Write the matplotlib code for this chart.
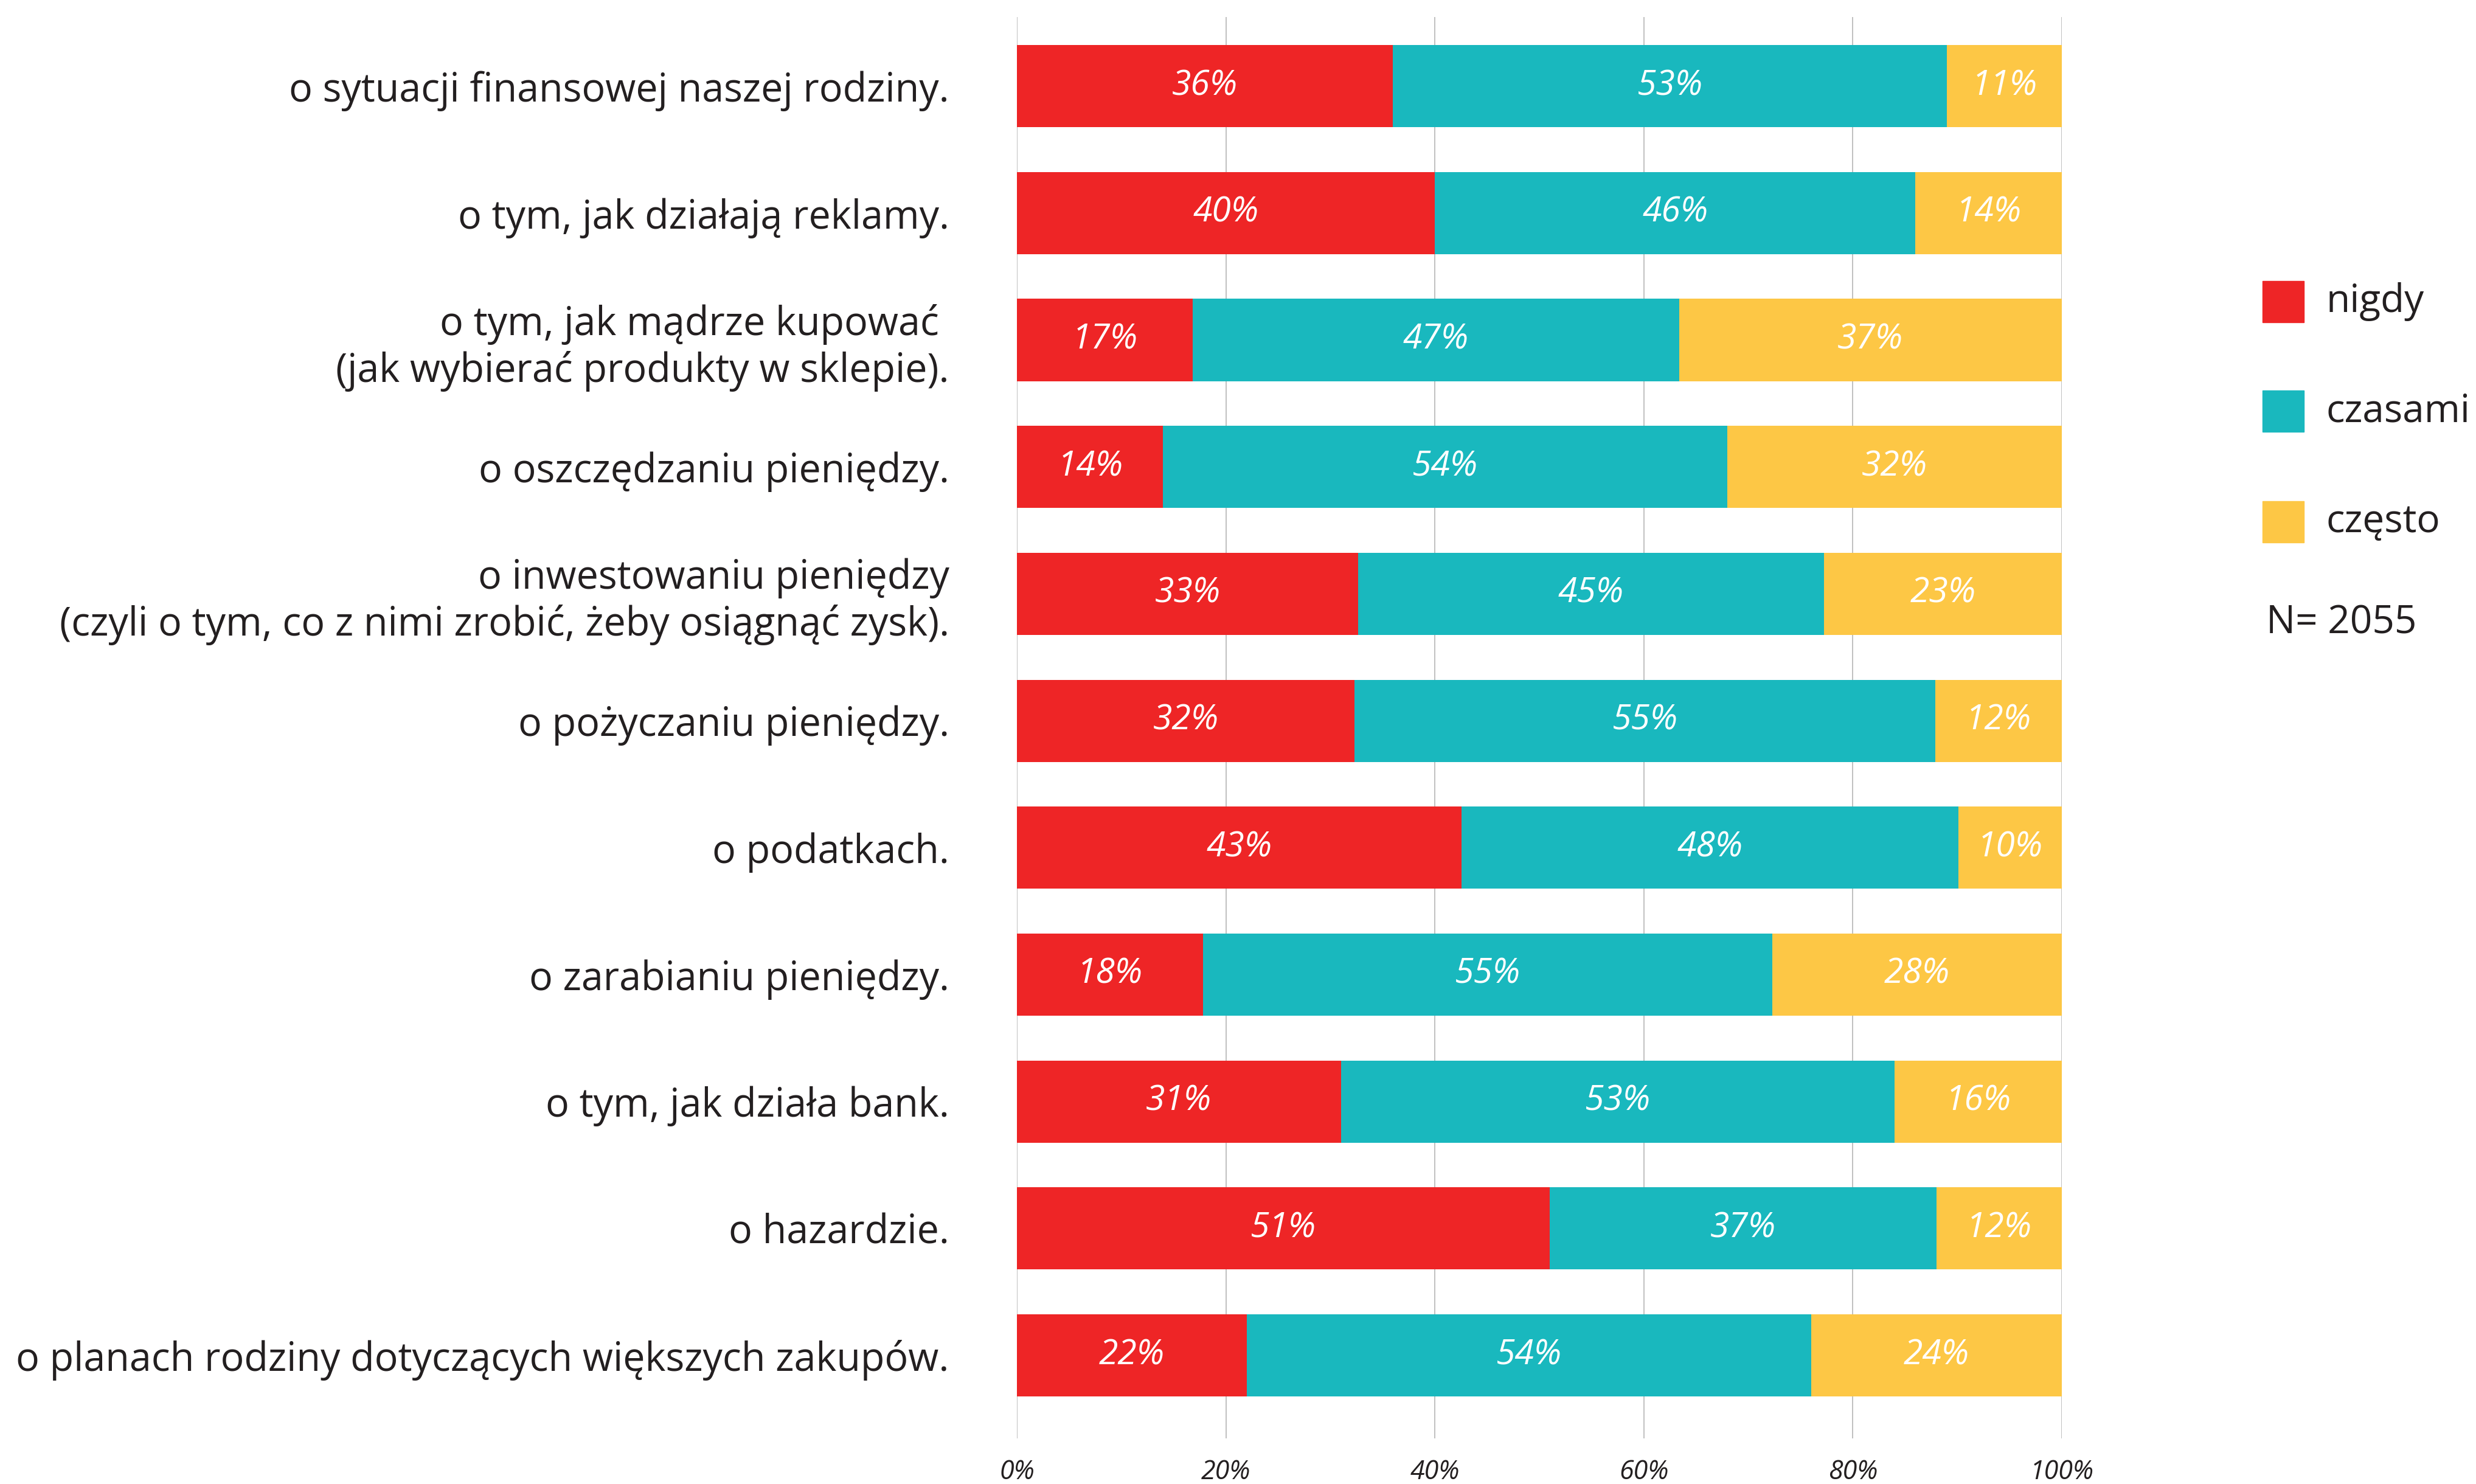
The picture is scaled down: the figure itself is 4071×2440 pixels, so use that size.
import numpy as np
import matplotlib
matplotlib.use("Agg")
import matplotlib.pyplot as plt
from matplotlib.patches import Rectangle

# odpowiedzi na pytanie: jak często rodzice rozmawiają z dzieckiem ...
categories = [
    "o sytuacji finansowej naszej rodziny.",
    "o tym, jak działają reklamy.",
    "o tym, jak mądrze kupować \n(jak wybierać produkty w sklepie).",
    "o oszczędzaniu pieniędzy.",
    "o inwestowaniu pieniędzy\n(czyli o tym, co z nimi zrobić, żeby osiągnąć zysk).",
    "o pożyczaniu pieniędzy.",
    "o podatkach.",
    "o zarabianiu pieniędzy.",
    "o tym, jak działa bank.",
    "o hazardzie.",
    "o planach rodziny dotyczących większych zakupów.",
]
nigdy = [36, 40, 17, 14, 33, 32, 43, 18, 31, 51, 22]
czasami = [53, 46, 47, 54, 45, 55, 48, 55, 53, 37, 54]
czesto = [11, 14, 37, 32, 23, 12, 10, 28, 16, 12, 24]

series_names = ["nigdy", "czasami", "często"]
colors = ["#EE2526", "#19B8BE", "#FDC745"]
x_ticks = [0, 20, 40, 60, 80, 100]
n_label = "N= 2055"

TEXT = "#231F20"
plt.rcParams["font.family"] = ["Open Sans", "DejaVu Sans"]

fig = plt.figure(figsize=(40.71, 24.40), dpi=100)
ax = fig.add_axes([0.4107, 0.0307, 0.4220, 0.9578])

values = np.array([nigdy, czasami, czesto], dtype=float)
shares = values / values.sum(axis=0) * 100  # każdy wiersz do 100%
y = np.arange(len(categories))

left = np.zeros(len(categories))
for vals, shr, color in zip(values, shares, colors):
    ax.barh(y, shr, left=left, height=0.647, color=color, zorder=2)
    for yi, l, w, v in zip(y, left, shr, vals):
        ax.text(l + w / 2, yi, f"{v:.0f}%", ha="center", va="center",
                color="white", fontsize=41, style="italic", zorder=3)
    left += shr

ax.set_xlim(0, 100)
ax.set_ylim(10.654, -0.544)
ax.set_yticks(y)
ax.set_yticklabels(categories, fontsize=46.5, color=TEXT)
ax.set_xticks(x_ticks)
ax.set_xticklabels([f"{t}%" for t in x_ticks], fontsize=31, style="italic",
                   color=TEXT)
ax.tick_params(axis="y", length=0, pad=80)
ax.tick_params(axis="x", length=0, pad=24)
ax.grid(axis="x", color="#B5B5B5", linewidth=1.2, zorder=0)
ax.set_axisbelow(True)
for s in ax.spines.values():
    s.set_visible(False)

# legenda po prawej stronie
W, H = 4071, 2440
legend_y = [496, 676, 858]
for name, color, ly in zip(series_names, colors, legend_y):
    fig.patches.append(Rectangle((3720 / W, (H - ly - 34) / H), 68 / W, 68 / H,
                                 transform=fig.transFigure, color=color))
    fig.text(3824 / W, (H - ly) / H, name, fontsize=46, color=TEXT,
             va="center", ha="left")
fig.text(3726 / W, (H - 1025) / H, n_label, fontsize=46, color=TEXT,
         va="center", ha="left")

fig.savefig("out.png", dpi=100, facecolor="white")
